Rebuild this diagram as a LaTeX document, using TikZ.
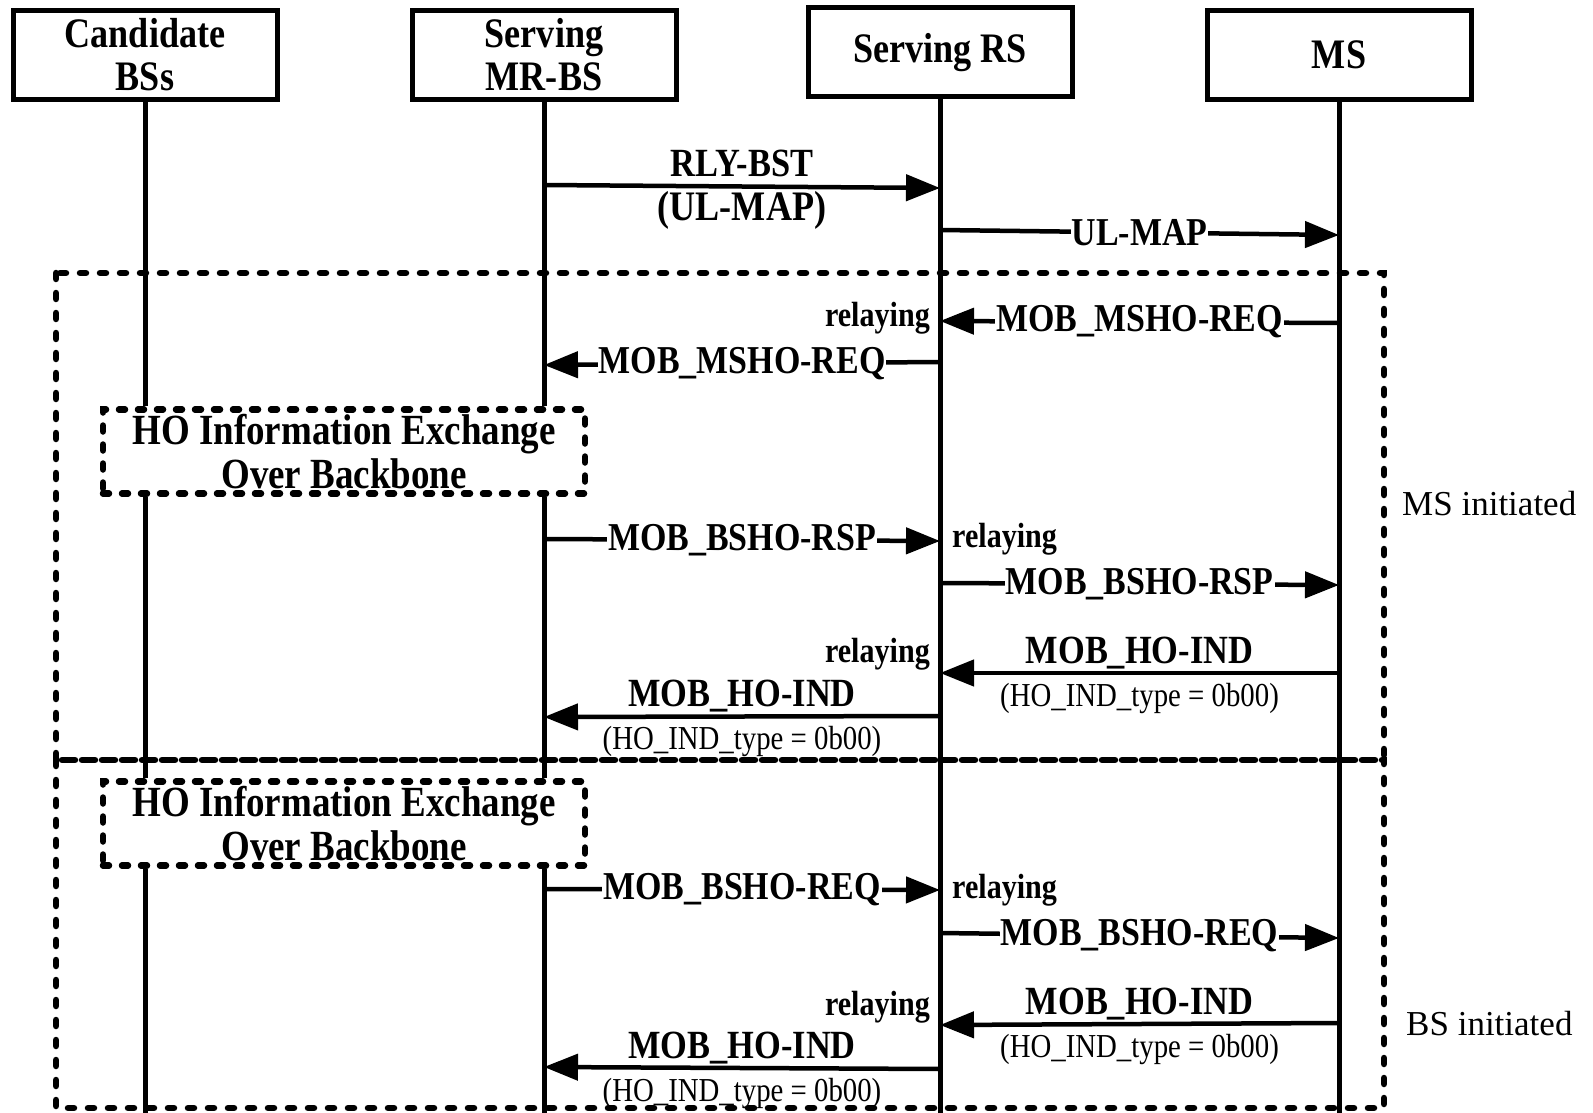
\documentclass[tikz,border=0pt]{standalone}
\usepackage{fontspec}
\setmainfont{Liberation Serif}
\newfontfamily\narrowfont{Liberation Serif}[FakeStretch=0.86]
\usetikzlibrary{arrows.meta}
\begin{document}
\begin{tikzpicture}[x=1pt,y=-1pt,
  actor/.style={draw, line width=5pt, minimum width=264pt, minimum height=89pt, inner sep=0pt,
    align=center, font=\narrowfont\fontsize{42}{43}\selectfont\bfseries},
  hobox/.style={draw, line width=6.5pt, dash pattern=on 6pt off 13pt, line cap=round,
    minimum width=482pt, minimum height=84pt, inner sep=0pt, align=center,
    font=\narrowfont\fontsize{43}{44}\selectfont\bfseries},
  frame/.style={line width=6.5pt, dash pattern=on 6pt off 14pt, line cap=round},
  life/.style={line width=5pt},
  msg/.style={line width=4.5pt, -{Triangle[length=34pt,width=26pt]}},
  inl/.style={fill=white, inner sep=1pt, font=\narrowfont\fontsize{39.5}{40}\selectfont\bfseries},
  top/.style={anchor=base, yshift=10pt, inner sep=0pt, font=\narrowfont\fontsize{40}{40}\selectfont\bfseries},
  bot/.style={anchor=base, yshift=-33pt, inner sep=0pt, font=\narrowfont\fontsize{33.5}{34}\selectfont},
  botb/.style={anchor=base, yshift=-34pt, inner sep=0pt, font=\narrowfont\fontsize{42}{42}\selectfont\bfseries},
  rel/.style={inner sep=0pt, font=\narrowfont\fontsize{35}{36}\selectfont\bfseries},
  side/.style={anchor=west, inner sep=0pt, font=\fontsize{35}{38}\selectfont}
]
\useasboundingbox (0,0) rectangle (1593,1113);
\coordinate (bottom) at (0,1113);

% actors
\node[actor] (cand) at (145,55) {Candidate\\BSs};
\node[actor] (mrbs) at (544,55) {Serving\\MR-BS};
\node[actor] (rs) at (940,52.5) {Serving RS};
\node[actor] (ms) at (1339,55) {MS};

% HO information exchange boxes
\node[hobox] (ho1) at (344,451.5) {HO Information Exchange\\Over Backbone};
\node[hobox] (ho2) at (344,823.5) {HO Information Exchange\\Over Backbone};

% lifelines
\draw[life] (cand.south) -- (cand.south |- ho1.north);
\draw[life] (cand.south |- ho1.south) -- (cand.south |- ho2.north);
\draw[life] (cand.south |- ho2.south) -- (cand.south |- bottom);
\draw[life] (mrbs.south) -- (mrbs.south |- ho1.north);
\draw[life] (mrbs.south |- ho1.south) -- (mrbs.south |- ho2.north);
\draw[life] (mrbs.south |- ho2.south) -- (mrbs.south |- bottom);
\draw[life] (rs.south) -- (rs.south |- bottom);
\draw[life] (ms.south) -- (ms.south |- bottom);

% frames
\draw[frame] (56,273) rectangle (1384,760);
\draw[frame] (56,760) rectangle (1384,1108);
\node[side] (msi) at (1402,504) {MS initiated};
\node[side] (bsi) at (1406,1024) {BS initiated};

% message end points
\coordinate (a1) at (544,185);  \coordinate (b1) at (940,188);
\coordinate (a2) at (940,230);  \coordinate (b2) at (1339,235);
\coordinate (a3) at (1339,323); \coordinate (b3) at (940,321);
\coordinate (a4) at (940,362);  \coordinate (b4) at (544,365);
\coordinate (a5) at (544,539);  \coordinate (b5) at (940,541);
\coordinate (a6) at (940,583);  \coordinate (b6) at (1339,585);
\coordinate (a7) at (1339,673); \coordinate (b7) at (940,673);
\coordinate (a8) at (940,716);  \coordinate (b8) at (544,717);
\coordinate (a9) at (544,889);  \coordinate (b9) at (940,890);
\coordinate (a10) at (940,933); \coordinate (b10) at (1339,938);
\coordinate (a11) at (1339,1023); \coordinate (b11) at (940,1025);
\coordinate (a12) at (940,1069); \coordinate (b12) at (544,1067);

% messages
\draw[msg] (a1) -- node[top] (t1) {RLY-BST} node[botb] (s1) {(UL-MAP)} (b1);
\draw[msg] (a2) -- node[inl] (t2) {UL-MAP} (b2);
\draw[msg] (a3) -- node[inl] (t3) {MOB\_MSHO-REQ} (b3);
\draw[msg] (a4) -- node[inl] (t4) {MOB\_MSHO-REQ} (b4);
\draw[msg] (a5) -- node[inl] (t5) {MOB\_BSHO-RSP} (b5);
\draw[msg] (a6) -- node[inl] (t6) {MOB\_BSHO-RSP} (b6);
\draw[msg] (a7) -- node[top] (t7) {MOB\_HO-IND} node[bot] (s7) {(HO\_IND\_type = 0b00)} (b7);
\draw[msg] (a8) -- node[top] (t8) {MOB\_HO-IND} node[bot] (s8) {(HO\_IND\_type = 0b00)} (b8);
\draw[msg] (a9) -- node[inl] (t9) {MOB\_BSHO-REQ} (b9);
\draw[msg] (a10) -- node[inl] (t10) {MOB\_BSHO-REQ} (b10);
\draw[msg] (a11) -- node[top] (t11) {MOB\_HO-IND} node[bot] (s11) {(HO\_IND\_type = 0b00)} (b11);
\draw[msg] (a12) -- node[top] (t12) {MOB\_HO-IND} node[bot] (s12) {(HO\_IND\_type = 0b00)} (b12);

% relaying notes
\node[rel, anchor=east] (r1) at (930,318) {relaying};
\node[rel, anchor=west] (r2) at (952,539) {relaying};
\node[rel, anchor=east] (r3) at (930,654) {relaying};
\node[rel, anchor=west] (r4) at (952,890) {relaying};
\node[rel, anchor=east] (r5) at (930,1007) {relaying};
\end{tikzpicture}
\end{document}
